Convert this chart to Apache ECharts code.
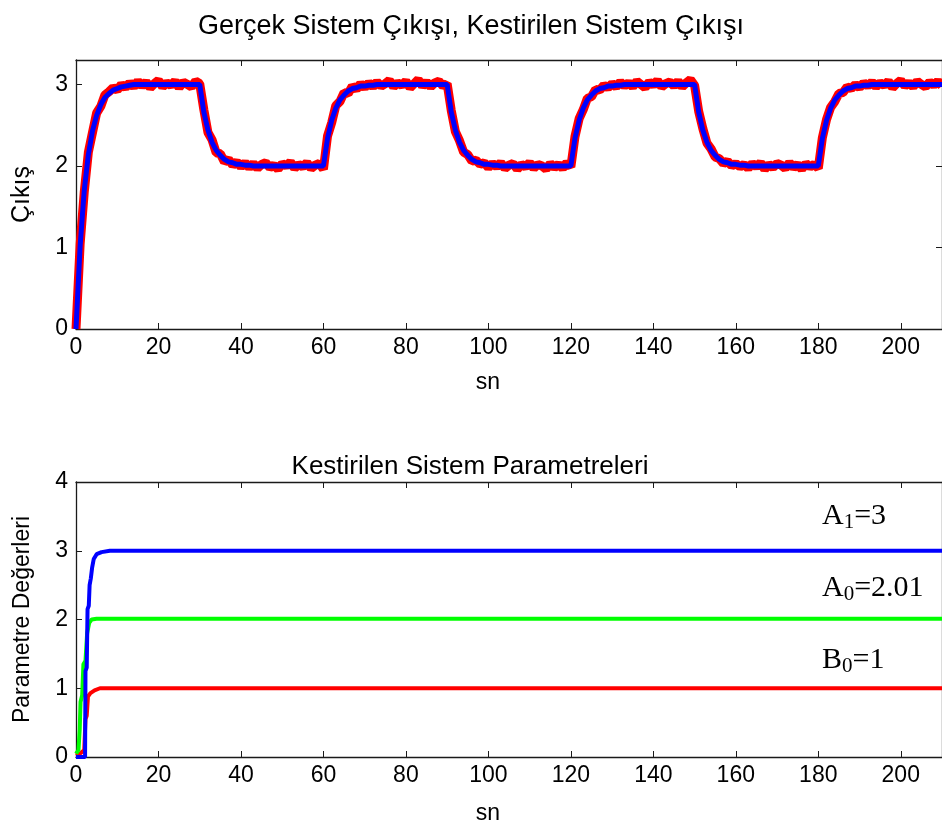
<!DOCTYPE html>
<html>
<head>
<meta charset="utf-8">
<script src="https://cdn.jsdelivr.net/npm/echarts@6/dist/echarts.min.js"></script>
<style>
html,body{margin:0;padding:0;background:#fff;}
#c{width:942px;height:830px;}
</style>
</head>
<body>
<div id="c"></div>
<script>
// ---- data (sample time 1 s, t = 0..210) ----
const sampleTime = 1;
const realOutput = [
0.00,1.04,1.68,2.17,2.41,2.65,2.73,2.87,2.91,2.96,2.93,3.00,2.96,3.02,
2.97,3.04,2.98,3.03,2.96,3.01,3.05,2.97,3.02,2.99,3.04,2.96,3.03,3.00,2.97,3.04,3.01,
2.69,2.41,2.32,2.16,2.15,2.05,2.08,2.01,2.05,1.99,2.04,1.98,
2.03,1.97,2.02,2.04,1.98,2.01,1.96,2.03,2.00,2.05,1.97,2.02,1.99,2.04,1.97,2.01,2.03,1.96,
2.37,2.53,2.74,2.79,2.90,2.89,2.98,2.94,3.01,2.96,3.02,2.97,
3.03,2.98,3.01,3.05,2.97,3.02,2.99,3.04,2.96,3.01,3.06,2.98,3.03,2.97,3.02,3.04,2.98,3.01,
2.68,2.42,2.31,2.17,2.14,2.06,2.07,2.02,2.04,1.98,2.03,1.99,
2.04,1.97,2.01,2.03,1.96,2.02,1.99,2.04,1.97,2.02,2.00,1.96,2.03,1.98,2.02,1.97,2.04,1.99,
2.36,2.58,2.69,2.83,2.85,2.94,2.93,2.99,2.96,3.01,2.97,3.03,
2.98,3.02,2.97,3.04,3.00,2.96,3.03,2.99,3.05,2.97,3.01,3.03,2.98,3.04,2.97,3.02,3.06,2.99,
2.67,2.46,2.28,2.21,2.11,2.09,2.03,2.06,2.00,2.03,1.99,2.02,
1.97,2.03,1.99,2.04,1.96,2.02,1.98,2.03,2.01,1.97,2.04,1.98,2.02,1.96,2.03,1.99,2.02,1.97,
2.35,2.57,2.72,2.79,2.89,2.90,2.97,2.95,3.00,2.96,3.02,2.98,
3.03,2.97,3.02,2.99,3.04,2.96,3.01,3.05,2.98,3.02,2.97,3.04,3.00,2.97,3.03,2.99,3.04,2.98
];
const estimatedOutput = [
0,1.02,1.70,2.14,2.43,2.62,2.75,2.84,2.89,2.93,2.95,2.97,2.98,2.99,
3,3,3,3,3,3,3,3,3,3,3,3,3,3,3,3,3,
2.66,2.44,2.29,2.19,2.13,2.08,2.05,2.04,2.02,2.02,2.01,2.01,
2,2,2,2,2,2,2,2,2,2,2,2,2,2,2,2,2,2,
2.34,2.56,2.71,2.81,2.87,2.92,2.95,2.96,2.98,2.98,2.99,2.99,
3,3,3,3,3,3,3,3,3,3,3,3,3,3,3,3,3,3,
2.66,2.44,2.29,2.19,2.13,2.08,2.05,2.04,2.02,2.02,2.01,2.01,
2,2,2,2,2,2,2,2,2,2,2,2,2,2,2,2,2,2,
2.34,2.56,2.71,2.81,2.87,2.92,2.95,2.96,2.98,2.98,2.99,2.99,
3,3,3,3,3,3,3,3,3,3,3,3,3,3,3,3,3,3,
2.66,2.44,2.29,2.19,2.13,2.08,2.05,2.04,2.02,2.02,2.01,2.01,
2,2,2,2,2,2,2,2,2,2,2,2,2,2,2,2,2,2,
2.34,2.56,2.71,2.81,2.87,2.92,2.95,2.96,2.98,2.98,2.99,2.99,
3,3,3,3,3,3,3,3,3,3,3,3,3,3,3,3,3,3
];
// parameter estimates [t, value]
const paramA1 = [[0,0],[2.2,0],[2.3,1.25],[2.6,1.3],[2.8,2.15],[3.1,2.2],[3.3,2.5],[3.6,2.6],[3.9,2.75],[4.3,2.88],[5.0,2.95],[6.2,2.98],[8.2,3.0],[210,3.0]];
const paramA0 = [[0,0.05],[0.6,0.1],[0.9,0.4],[1.1,0.8],[1.5,0.9],[1.8,1.35],[2.3,1.4],[2.7,1.8],[3.2,1.95],[3.8,2.0],[5.0,2.01],[210,2.01]];
const paramB0 = [[0,0.02],[1.0,0.05],[2.0,0.1],[2.3,0.55],[2.6,0.6],[2.9,0.88],[3.5,0.93],[4.5,0.97],[5.8,1.0],[210,1.0]];
const xTicks = [0,20,40,60,80,100,120,140,160,180,200];
const topYTicks = [0,1,2,3];
const botYTicks = [0,1,2,3,4];

const FONT = "'Liberation Sans', Arial, sans-serif";
const SERIF = "'Liberation Serif', 'Times New Roman', serif";
const AX = '#1a1a1a';

const chart = echarts.init(document.getElementById('c'), null, {renderer:'canvas'});

function xAx(gi, pos, labels){
  return {
    type:'value', gridIndex:gi, position:pos, min:0, max:210, interval:20,
    axisLine:{show:true, onZero:false, lineStyle:{color:AX, width:1.3}},
    axisTick:{show:true, inside:true, length:6, lineStyle:{color:AX}},
    axisLabel:{show:labels, fontFamily:FONT, fontSize:23, color:'#000', margin:7,
      showMaxLabel:false,
      formatter:v => xTicks.indexOf(v) >= 0 ? String(v) : ''},
    splitLine:{show:false}
  };
}
function yAx(gi, pos, max, ticks, labels, name, gap, nameSize){
  return {
    type:'value', gridIndex:gi, position:pos, min:0, max:max, interval:1,
    name: name || '', nameLocation:'middle', nameGap: gap || 0,
    nameTextStyle:{fontFamily:FONT, fontSize:nameSize || 23, color:'#000'},
    axisLine:{show:true, onZero:false, lineStyle:{color:AX, width:1.3}},
    axisTick:{show:true, inside:true, length:6, lineStyle:{color:AX}},
    axisLabel:{show:labels, fontFamily:FONT, fontSize:23, color:'#000', margin:8,
      showMaxLabel: max === 4,
      formatter:v => ticks.indexOf(v) >= 0 ? String(v) : ''},
    splitLine:{show:false}
  };
}

const option = {
  animation:false,
  backgroundColor:'#fff',
  grid:[
    {left:76, top:60, width:867, height:269},
    {left:76, top:482, width:867, height:275}
  ],
  xAxis:[
    xAx(0,'bottom',true), xAx(0,'top',false),
    xAx(1,'bottom',true), xAx(1,'top',false)
  ],
  yAxis:[
    yAx(0,'left',3.3,topYTicks,true,'Çıkış',41,25), yAx(0,'right',3.3,topYTicks,false),
    yAx(1,'left',4,botYTicks,true,'Parametre Değerleri',42,23), yAx(1,'right',4,botYTicks,false)
  ],
  series:[
    {type:'line', xAxisIndex:0, yAxisIndex:0, showSymbol:false, clip:true,
      data: realOutput.map((v,i)=>[i*sampleTime, v]),
      lineStyle:{color:'#ff0000', width:9}, itemStyle:{color:'#ff0000'}},
    {type:'line', xAxisIndex:0, yAxisIndex:0, showSymbol:false, clip:true,
      data: estimatedOutput.map((v,i)=>[i*sampleTime, v]),
      lineStyle:{color:'#0000ff', width:5}, itemStyle:{color:'#0000ff'}},
    {type:'line', xAxisIndex:2, yAxisIndex:2, showSymbol:false, clip:true,
      data: paramB0, lineStyle:{color:'#ff0000', width:4}},
    {type:'line', xAxisIndex:2, yAxisIndex:2, showSymbol:false, clip:true,
      data: paramA0, lineStyle:{color:'#00ff00', width:4}},
    {type:'line', xAxisIndex:2, yAxisIndex:2, showSymbol:false, clip:true,
      data: paramA1, lineStyle:{color:'#0000ff', width:4}}
  ]
};
const richAnn = {
  a:{fontFamily:SERIF, fontSize:30, lineHeight:33, color:'#000'},
  s:{fontFamily:SERIF, fontSize:21, lineHeight:19, verticalAlign:'bottom', color:'#000'}
};
option.graphic = [
  {type:'text', x:471, y:27, style:{text:'Gerçek Sistem Çıkışı, Kestirilen Sistem Çıkışı', fontFamily:FONT, fontSize:27, fill:'#000', align:'center', verticalAlign:'middle'}},
  {type:'text', x:470, y:467, style:{text:'Kestirilen Sistem Parametreleri', fontFamily:FONT, fontSize:26, fill:'#000', align:'center', verticalAlign:'middle'}},
  {type:'text', x:488, y:383, style:{text:'sn', fontFamily:FONT, fontSize:23, fill:'#000', align:'center', verticalAlign:'middle'}},
  {type:'text', x:488, y:814, style:{text:'sn', fontFamily:FONT, fontSize:23, fill:'#000', align:'center', verticalAlign:'middle'}},
  {type:'text', x:822, y:500, style:{text:'{a|A}{s|1}{a|=3}', rich:richAnn}},
  {type:'text', x:822, y:572, style:{text:'{a|A}{s|0}{a|=2.01}', rich:richAnn}},
  {type:'text', x:822, y:644, style:{text:'{a|B}{s|0}{a|=1}', rich:richAnn}}
];
chart.setOption(option);
</script>
</body>
</html>
